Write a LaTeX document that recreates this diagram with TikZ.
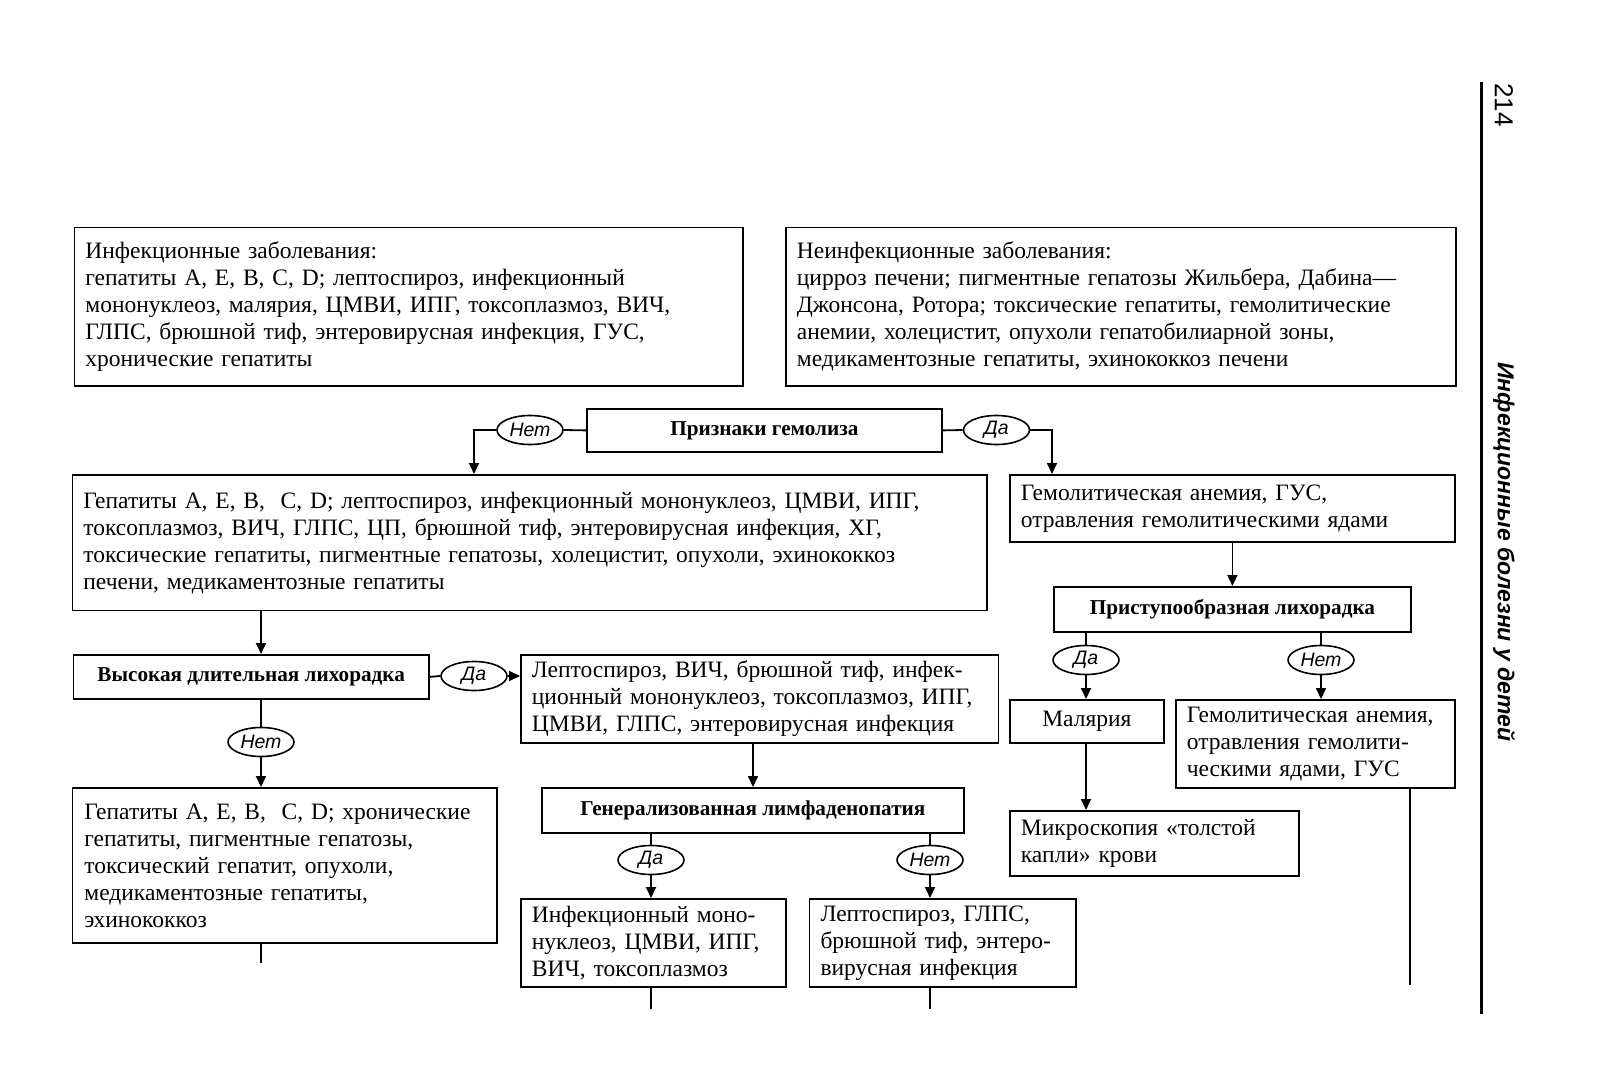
\documentclass[tikz,border=0pt]{standalone}
\usepackage{fontspec}
\setmainfont{Liberation Serif}
\newfontfamily\lblfont{Liberation Sans}
\usetikzlibrary{shapes.geometric,arrows.meta}
\begin{document}
\begin{tikzpicture}[x=1pt,y=-1pt,
  box/.style={draw,line width=1.8pt,rectangle,inner xsep=11pt,inner ysep=0pt,align=left,anchor=north west,font=\fontsize{23.5}{27}\selectfont},
  hbox/.style={draw,line width=1.8pt,rectangle,inner sep=0pt,anchor=north west,font=\fontsize{21.2}{24}\selectfont\bfseries},
  yn/.style={draw,ellipse,line width=1.6pt,minimum width=66pt,minimum height=29pt,inner sep=0pt,font=\lblfont\itshape\fontsize{19.5}{22}\selectfont},
  ln/.style={line width=1.8pt},
  arr/.style={ln,-{Triangle[length=11pt,width=10pt]}},
]
\fill[white] (0,0) rectangle (1601,1086);
\useasboundingbox (0,0) rectangle (1601,1086);

% top boxes
\node[box,text width=646.5pt,minimum height=158.3pt] (inf) at (73.5,226.7) {Инфекционные заболевания:\\
гепатиты А, Е, В, С, D; лептоспироз, инфекционный\\
мононуклеоз, малярия, ЦМВИ, ИПГ, токсоплазмоз, ВИЧ,\\
ГЛПС, брюшной тиф, энтеровирусная инфекция, ГУС,\\
хронические гепатиты};
\node[box,text width=648pt,minimum height=158.3pt] (ninf) at (785,226.7) {Неинфекционные заболевания:\\
цирроз печени; пигментные гепатозы Жильбера, Дабина—\\
Джонсона, Ротора; токсические гепатиты, гемолитические\\
анемии, холецистит, опухоли гепатобилиарной зоны,\\
медикаментозные гепатиты, эхинококкоз печени};

% hemolysis
\node[hbox,minimum width=355pt,minimum height=43pt] (priz) at (586,408) {Признаки гемолиза};
\node[yn] (net1) at (530,430) {Нет};
\node[yn] (da1) at (996.5,430) {Да};

\node[box,text width=892.5pt,minimum height=135.5pt] (big) at (71.5,474) {Гепатиты А, Е, В,\ \ С, D; лептоспироз, инфекционный мононуклеоз, ЦМВИ, ИПГ,\\
токсоплазмоз, ВИЧ, ГЛПС, ЦП, брюшной тиф, энтеровирусная инфекция, ХГ,\\
токсические гепатиты, пигментные гепатозы, холецистит, опухоли, эхинококкоз\\
печени, медикаментозные гепатиты};
\node[box,text width=423pt,minimum height=67pt] (hem1) at (1009,474) {Гемолитическая анемия, ГУС,\\
отравления гемолитическими ядами};

% right branch
\node[hbox,minimum width=357pt,minimum height=45pt] (prist) at (1053,586) {Приступообразная лихорадка};
\node[yn] (da2) at (1086,660) {Да};
\node[yn] (net2) at (1321,660) {Нет};
\node[box,align=center,text width=132pt,minimum height=43pt] (mal) at (1009,699) {Малярия};
\node[box,text width=257pt,minimum height=88pt] (hem2) at (1175,699) {Гемолитическая анемия,\\
отравления гемолити-\\
ческими ядами, ГУС};
\node[box,text width=267pt,minimum height=65pt] (micro) at (1009,810) {Микроскопия «толстой\\
капли» крови};

% left branch
\node[hbox,minimum width=355.5pt,minimum height=44pt] (vys) at (72.5,654) {Высокая длительная лихорадка};
\node[yn] (da3) at (474,676) {Да};
\node[box,text width=455.5pt,minimum height=88pt] (lep1) at (520,654) {Лептоспироз, ВИЧ, брюшной тиф, инфек-\\
ционный мононуклеоз, токсоплазмоз, ИПГ,\\
ЦМВИ, ГЛПС, энтеровирусная инфекция};
\node[yn] (net3) at (261,742) {Нет};
\node[box,text width=400.5pt,inner xsep=12pt,minimum height=155pt] (hep2) at (71.5,787) {Гепатиты А, Е, В,\ \ С, D; хронические\\
гепатиты, пигментные гепатозы,\\
токсический гепатит, опухоли,\\
медикаментозные гепатиты,\\
эхинококкоз};
\node[hbox,minimum width=422pt,minimum height=45pt] (gen) at (541,787) {Генерализованная лимфаденопатия};
\node[yn] (da4) at (651,860) {Да};
\node[yn] (net4) at (930,860) {Нет};
\node[box,text width=243pt,minimum height=88pt] (mono) at (520,898) {Инфекционный моно-\\
нуклеоз, ЦМВИ, ИПГ,\\
ВИЧ, токсоплазмоз};
\node[box,text width=244.4pt,minimum height=88pt] (lep2) at (808.6,898) {Лептоспироз, ГЛПС,\\
брюшной тиф, энтеро-\\
вирусная инфекция};

% helper coordinates
\coordinate (xA) at (474,0);
\coordinate (xB) at (1052,0);
\coordinate (xC) at (753,0);
\coordinate (e1) at (261,963);
\coordinate (e2) at (651,1009);
\coordinate (e3) at (930,1009);
\coordinate (e4) at (1410,985);

% connectors
\draw[ln] (priz.west) -- (net1.east);
\draw[arr] (net1.west) -| (big.north -| xA);
\draw[ln] (priz.east) -- (da1.west);
\draw[arr] (da1.east) -| (hem1.north -| xB);
\draw[arr] (hem1.south) -- (prist.north);
\draw[ln] (prist.south -| da2) -- (da2.north);
\draw[arr] (da2.south) -- (mal.north -| da2);
\draw[ln] (prist.south -| net2) -- (net2.north);
\draw[arr] (net2.south) -- (hem2.north -| net2);
\draw[arr] (mal.south -| da2) -- (micro.north -| da2);
\draw[ln] (hem2.south -| e4) -- (e4);
\draw[arr] (big.south -| net3) -- (vys.north -| net3);
\draw[ln] (vys.east) -- (da3.west);
\draw[arr] (da3.east) -- (lep1.west |- da3);
\draw[ln] (vys.south -| net3) -- (net3.north);
\draw[arr] (net3.south) -- (hep2.north -| net3);
\draw[ln] (hep2.south -| e1) -- (e1);
\draw[arr] (lep1.south -| xC) -- (gen.north -| xC);
\draw[ln] (gen.south -| da4) -- (da4.north);
\draw[arr] (da4.south) -- (mono.north -| da4);
\draw[ln] (gen.south -| net4) -- (net4.north);
\draw[arr] (net4.south) -- (lep2.north -| net4);
\draw[ln] (mono.south -| e2) -- (e2);
\draw[ln] (lep2.south -| e3) -- (e3);

% page margin
\draw[line width=3pt] (1481.5,82) -- (1481.5,1014);
\node[rotate=-90,font=\lblfont\fontsize{26}{30}\selectfont] (pg) at (1504,105) {214};
\node[rotate=-90,font=\lblfont\bfseries\itshape\fontsize{23}{27}\selectfont] (hdr) at (1504,552) {Инфекционные болезни у детей};
\end{tikzpicture}
\end{document}
